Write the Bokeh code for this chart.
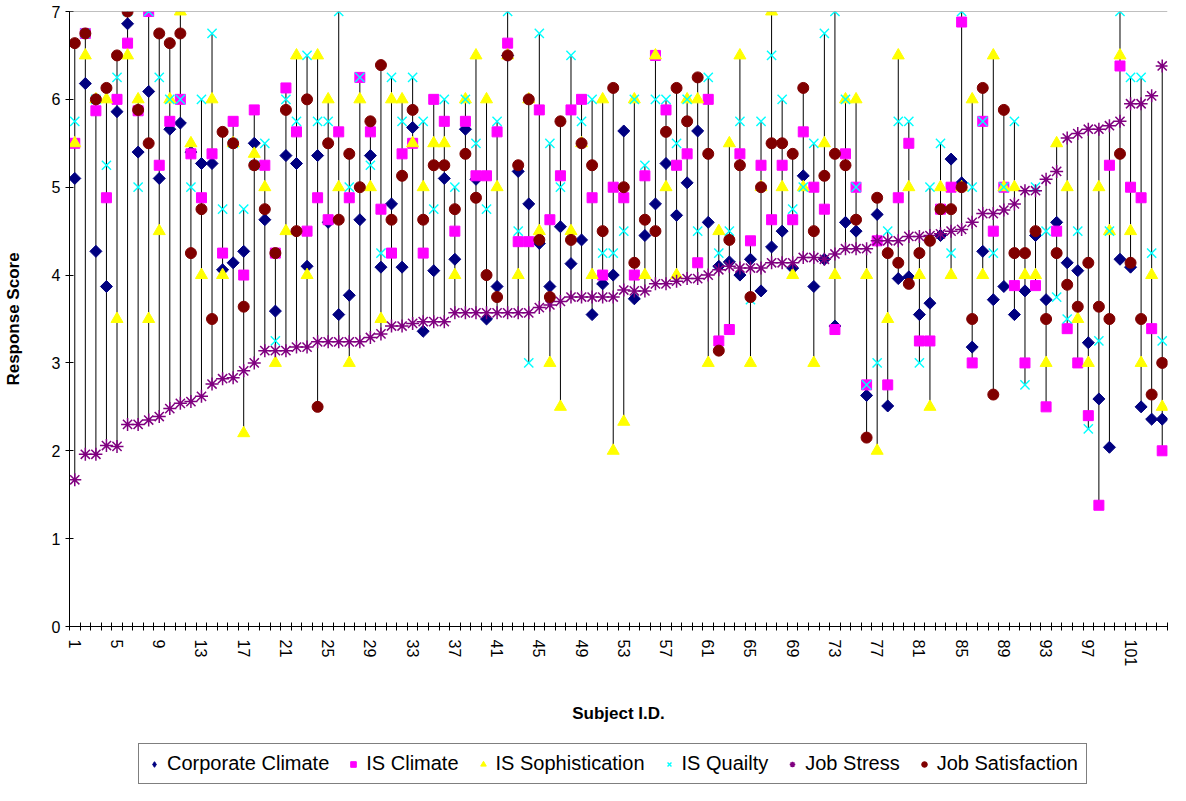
from bokeh.plotting import figure
from bokeh.layouts import column
from bokeh.models import Range1d, FixedTicker, Legend, LegendItem, Span
from bokeh.embed import file_html
from bokeh.resources import INLINE

subjects = list(range(1, 105))
tick_labels = list(range(1, 105, 4))

corporate_climate = [5.1, 6.18, 4.27, 3.87, 5.86, 6.86, 5.4, 6.09, 5.1, 5.66,
                     5.73, 5.4, 5.27, 5.27, 4.06, 4.14, 4.27, 5.5, 4.63, 3.59,
                     5.36, 5.27, 4.1, 5.36, 4.6, 3.55, 3.77, 4.63, 5.36, 4.09,
                     4.81, 4.09, 5.68, 3.36, 4.05, 5.1, 4.18, 5.66, 5.09, 3.5,
                     3.87, 6.5, 5.18, 4.81, 4.36, 3.87, 4.55, 4.13, 4.4, 3.55,
                     3.9, 4.0, 5.64, 3.73, 4.45, 4.81, 5.27, 4.68, 5.05, 5.64,
                     4.6, 4.1, 4.15, 4.0, 4.18, 3.82, 4.32, 4.5, 4.08, 5.13,
                     3.87, 4.18, 3.42, 4.6, 4.5, 2.63, 4.69, 2.51, 3.96, 3.98,
                     3.55, 3.68, 4.45, 5.32, 5.05, 3.18, 4.27, 3.72, 3.87, 3.55,
                     3.82, 4.45, 3.72, 4.6, 4.14, 4.05, 3.23, 2.59, 2.04, 4.18,
                     4.09, 2.5, 2.36, 2.36]
is_climate = [5.5, 6.75, 5.87, 4.88, 6.0, 6.64, 5.87, 7.0, 5.25, 5.75,
              6.0, 5.38, 4.88, 5.38, 4.25, 5.75, 4.0, 5.88, 5.25, 4.25,
              6.13, 5.63, 4.5, 4.88, 4.63, 5.63, 4.88, 6.25, 5.63, 4.75,
              4.25, 5.38, 5.5, 4.25, 6.0, 5.75, 4.5, 5.75, 5.13, 5.13,
              5.63, 6.64, 4.38, 4.38, 5.88, 4.63, 5.13, 5.88, 6.0, 4.88,
              4.0, 5.0, 4.88, 4.0, 5.13, 6.5, 5.88, 5.25, 5.38, 4.14,
              6.0, 3.25, 3.38, 5.38, 4.39, 5.25, 4.63, 5.25, 4.63, 5.63,
              5.0, 4.75, 3.38, 5.38, 5.0, 2.75, 4.39, 2.75, 4.88, 5.5,
              3.25, 3.25, 4.75, 5.0, 6.88, 3.0, 5.75, 4.5, 5.0, 3.88,
              3.0, 3.88, 2.5, 4.5, 3.39, 3.0, 2.4, 1.38, 5.25, 6.38,
              5.0, 4.88, 3.39, 2.0]
is_sophistication = [5.5, 6.5, 6.0, 6.0, 3.5, 6.5, 6.0, 3.5, 4.5, 6.0,
                     7.0, 5.5, 4.0, 6.0, 4.0, 5.5, 2.2, 5.38, 5.0, 3.0,
                     4.5, 6.5, 4.0, 6.5, 6.0, 5.0, 3.0, 6.0, 5.0, 3.5,
                     6.0, 6.0, 5.5, 5.0, 5.5, 5.5, 4.0, 6.0, 6.5, 6.0,
                     5.0, 6.5, 4.0, 6.0, 4.5, 3.0, 2.5, 4.5, 5.5, 4.0,
                     6.0, 2.0, 2.33, 6.0, 4.0, 6.5, 5.0, 4.0, 6.0, 6.0,
                     3.0, 4.5, 5.5, 6.5, 3.0, 5.0, 7.0, 5.0, 4.0, 5.0,
                     3.0, 5.5, 4.0, 6.0, 6.0, 4.0, 2.0, 3.5, 6.5, 5.0,
                     4.0, 2.5, 5.0, 4.0, 5.0, 6.0, 4.0, 6.5, 5.0, 5.0,
                     4.0, 4.0, 3.0, 5.5, 5.0, 3.5, 3.0, 5.0, 4.5, 6.5,
                     4.5, 3.0, 4.0, 2.5]
is_quality = [5.75, 6.75, 6.0, 5.25, 6.25, 7.0, 5.0, 7.0, 6.25, 6.0,
              6.0, 5.0, 6.0, 6.75, 4.75, 5.5, 4.75, 5.25, 5.5, 3.25,
              6.0, 5.75, 6.5, 5.75, 5.75, 7.0, 5.0, 6.25, 5.25, 4.25,
              6.25, 5.75, 6.25, 5.75, 4.75, 6.0, 5.0, 6.0, 5.5, 4.75,
              5.75, 7.0, 4.5, 3.0, 6.75, 5.5, 5.0, 6.5, 5.75, 6.0,
              4.25, 4.25, 4.5, 6.0, 5.25, 6.0, 6.0, 5.5, 6.0, 4.5,
              6.25, 4.25, 4.5, 5.75, 3.72, 5.75, 6.5, 6.0, 4.75, 5.0,
              5.5, 6.75, 7.0, 6.0, 5.0, 2.75, 3.0, 4.5, 5.75, 5.75,
              3.0, 5.0, 5.5, 4.25, 7.0, 5.0, 5.75, 4.25, 5.0, 5.75,
              2.75, 5.0, 4.5, 3.75, 3.5, 4.5, 2.25, 3.25, 4.5, 7.0,
              6.25, 6.25, 4.25, 3.25]
job_stress = [1.67, 1.96, 1.96, 2.06, 2.05, 2.3, 2.3, 2.35, 2.39, 2.48,
              2.54, 2.56, 2.62, 2.76, 2.82, 2.83, 2.91, 3.0, 3.14, 3.14,
              3.14, 3.18, 3.18, 3.24, 3.24, 3.24, 3.24, 3.24, 3.29, 3.33,
              3.42, 3.42, 3.45, 3.47, 3.47, 3.47, 3.57, 3.57, 3.57, 3.57,
              3.57, 3.57, 3.57, 3.57, 3.63, 3.66, 3.7, 3.75, 3.75, 3.75,
              3.75, 3.75, 3.83, 3.82, 3.82, 3.9, 3.9, 3.93, 3.96, 3.96,
              4.0, 4.06, 4.1, 4.08, 4.08, 4.08, 4.14, 4.14, 4.14, 4.2,
              4.2, 4.18, 4.24, 4.3, 4.3, 4.3, 4.39, 4.39, 4.39, 4.44,
              4.44, 4.45, 4.47, 4.5, 4.52, 4.6, 4.7, 4.7, 4.74, 4.81,
              4.96, 4.96, 5.09, 5.18, 5.56, 5.61, 5.66, 5.66, 5.7, 5.75,
              5.95, 5.95, 6.04, 6.38]
job_satisfaction = [6.64, 6.75, 6.0, 6.13, 6.5, 7.0, 5.88, 5.5, 6.75, 6.64,
                    6.75, 4.25, 4.75, 3.5, 5.63, 5.5, 3.64, 5.25, 4.75, 4.25,
                    5.88, 4.5, 6.0, 2.5, 5.5, 4.63, 5.38, 5.0, 5.75, 6.39,
                    4.63, 5.13, 5.88, 4.63, 5.25, 5.25, 4.75, 5.38, 4.88, 4.0,
                    3.75, 6.5, 5.25, 6.0, 4.4, 3.75, 5.75, 4.4, 5.5, 5.25,
                    4.5, 6.13, 5.0, 4.14, 4.63, 4.5, 5.63, 6.13, 5.75, 6.25,
                    5.38, 3.14, 4.4, 5.25, 3.75, 5.0, 5.5, 5.5, 5.38, 6.13,
                    4.5, 5.13, 5.38, 5.25, 4.63, 2.15, 4.88, 4.25, 4.14, 3.9,
                    4.25, 4.39, 4.75, 4.75, 5.0, 3.5, 6.13, 2.64, 5.88, 4.25,
                    4.25, 4.5, 3.5, 4.25, 3.89, 3.64, 4.14, 3.64, 3.5, 5.38,
                    4.14, 3.5, 2.64, 3.0]

series_names = ["Corporate Climate", "IS Climate", "IS Sophistication",
                "IS Quailty", "Job Stress", "Job Satisfaction"]

all_series = [corporate_climate, is_climate, is_sophistication, is_quality,
              job_stress, job_satisfaction]
low = [min(vals) for vals in zip(*all_series)]
high = [max(vals) for vals in zip(*all_series)]

FONT = "Liberation Sans"

styles = [
    dict(marker="square", size=8.5, angle=0.785398, fill_color="#000080", line_color="#000080"),
    dict(marker="square", size=10, fill_color="#FF00FF", line_color="#FF00FF"),
    dict(marker="triangle", size=12, fill_color="#FFFF00", line_color="#FFFF00"),
    dict(marker="x", size=13, line_color="#00FFFF", line_width=1.4),
    dict(marker="asterisk", size=13, line_color="#800080", line_width=1.5),
    dict(marker="circle", size=11, fill_color="#800000", line_color="#800000"),
]
legend_styles = [dict(st) for st in styles]
legend_styles[0] = dict(marker="diamond", size=12, fill_color="#000080", line_color="#000080")

p = figure(width=1170, height=730,
           x_range=Range1d(0.5, 104.5), y_range=Range1d(0, 7),
           output_backend="svg", toolbar_location=None,
           min_border_left=67, min_border_right=3, min_border_top=11, min_border_bottom=104)
p.xgrid.visible = False
p.ygrid.visible = False
p.outline_line_color = None
p.background_fill_color = "white"
p.border_fill_color = "white"

p.add_layout(Span(location=7, dimension="width", line_color="#808080", line_width=1))

p.segment(x0=subjects, y0=low, x1=subjects, y1=high, line_color="black", line_width=1)

for vals, st in zip(all_series, styles):
    p.scatter(subjects, vals, **st)

# x axis
xa = p.xaxis[0]
xa.ticker = FixedTicker(ticks=tick_labels, minor_ticks=[i + 0.5 for i in range(0, 105)])
xa.major_tick_in = 0
xa.major_tick_out = 0
xa.minor_tick_in = 4
xa.minor_tick_out = 4
xa.minor_tick_line_color = "black"
xa.axis_line_color = "black"
xa.major_label_orientation = "vertical"
xa.major_label_standoff = 9
xa.major_label_text_font = FONT
xa.major_label_text_font_size = "16px"
xa.major_label_text_color = "black"
xa.axis_label = "Subject I.D."
xa.axis_label_text_font = FONT
xa.axis_label_text_font_style = "bold"
xa.axis_label_text_font_size = "17px"
xa.axis_label_text_color = "black"
xa.axis_label_standoff = 35

# y axis
ya = p.yaxis[0]
ya.ticker = FixedTicker(ticks=list(range(0, 8)))
ya.major_tick_in = 4
ya.major_tick_out = 4
ya.minor_tick_in = 0
ya.minor_tick_out = 0
ya.major_tick_line_color = "black"
ya.axis_line_color = "black"
ya.major_label_standoff = 5
ya.major_label_text_font = FONT
ya.major_label_text_font_size = "16px"
ya.major_label_text_color = "black"
ya.axis_label = "Response Score"
ya.axis_label_text_font = FONT
ya.axis_label_text_font_style = "bold"
ya.axis_label_text_font_size = "17px"
ya.axis_label_text_color = "black"
ya.axis_label_standoff = 26

# legend in a separate strip below the chart
lg = figure(width=1170, height=55, x_range=Range1d(0, 1), y_range=Range1d(0, 1),
            output_backend="svg", toolbar_location=None,
            x_axis_type=None, y_axis_type=None,
            min_border_left=0, min_border_right=0, min_border_top=0, min_border_bottom=0)
lg.outline_line_color = None
lg.xgrid.visible = False
lg.ygrid.visible = False
lg.background_fill_color = "white"
lg.border_fill_color = "white"

items = []
for name, st in zip(series_names, legend_styles):
    r = lg.scatter([-10], [-10], **st)
    items.append(LegendItem(label=name, renderers=[r]))

legend = Legend(items=items, orientation="horizontal", location=(69, 1))
legend.border_line_color = "black"
legend.border_line_width = 1
legend.label_text_font = FONT
legend.label_text_font_size = "20px"
legend.label_text_color = "black"
legend.glyph_width = 14
legend.glyph_height = 22
legend.label_standoff = 6
legend.spacing = 17
legend.padding = 8
legend.margin = 0
legend.background_fill_color = "white"
lg.add_layout(legend)

layout = column(p, lg, spacing=0)
open("out.html", "w").write(file_html(layout, INLINE))
